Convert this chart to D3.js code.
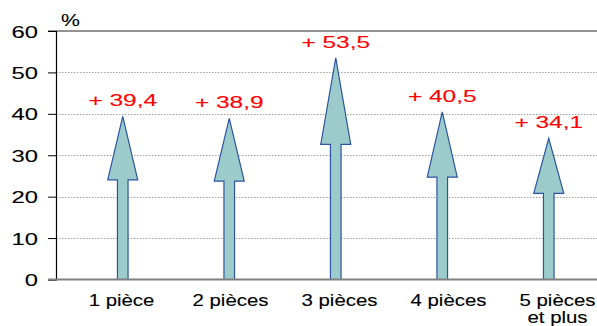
<!DOCTYPE html>
<html>
<head>
<meta charset="utf-8">
<script src="https://cdn.jsdelivr.net/npm/d3@7/dist/d3.min.js"></script>
<style>
  html, body { margin: 0; padding: 0; background: #fff; }
  svg { display: block; }
  text { font-family: "Liberation Sans", Arial, Helvetica, sans-serif; }
</style>
</head>
<body>
<svg id="chart" width="597" height="326"></svg>
<script>
// Rise in percent by number of rooms
const categories = ["1 pièce", "2 pièces", "3 pièces", "4 pièces", "5 pièces\net plus"];
const values = [39.4, 38.9, 53.5, 40.5, 34.1];
const valueLabels = ["+ 39,4", "+ 38,9", "+ 53,5", "+ 40,5", "+ 34,1"];
const yTicks = [0, 10, 20, 30, 40, 50, 60];

const svg = d3.select("#chart");
const W = 597, H = 326;
const axisX = 56;
const textStroke = 0.12;

const y = d3.scaleLinear().domain([0, 60]).range([279.5, 31]);

// category label positions and arrow positions
const xLabel = d3.scaleBand().domain(categories).range([67, 612]);
const xArrow = d3.scaleBand().domain(categories).range([69.5, 602]);
const lc = d => xLabel(d) + xLabel.bandwidth() / 2;
const ac = d => xArrow(d) + xArrow.bandwidth() / 2;

// dotted grid lines
svg.append("g").selectAll("line")
  .data(yTicks.filter(t => t > 0 && t < 60))
  .join("line")
  .attr("x1", axisX).attr("x2", W)
  .attr("y1", d => Math.round(y(d)) + 0.5).attr("y2", d => Math.round(y(d)) + 0.5)
  .attr("stroke", "#a0a0a0").attr("stroke-width", 1)
  .attr("stroke-dasharray", "1.5,1.5");

// top border at 60
svg.append("line")
  .attr("x1", 48).attr("x2", W)
  .attr("y1", y(60)).attr("y2", y(60))
  .attr("stroke", "#6e6e6e").attr("stroke-width", 1.6);

// y axis
const yAxis = d3.axisLeft(y).tickValues(yTicks).tickSize(8).tickFormat(d3.format("d"));
const gy = svg.append("g").attr("transform", `translate(${axisX},0)`).call(yAxis);
gy.select(".domain").attr("stroke", "#000").attr("stroke-width", 1.2);
gy.selectAll(".tick line").attr("stroke", "#000");
gy.selectAll(".tick text").remove();
gy.selectAll(".tick").append("text")
  .attr("transform", "translate(-18,6) scale(1.46,1)")
  .attr("text-anchor", "end")
  .attr("fill", "#000")
  .attr("stroke", "#000").attr("stroke-width", textStroke)
  .style("font-size", "16.3px")
  .style("font-family", '"Liberation Sans", Arial, sans-serif')
  .text(d => d);

// unit
svg.append("text")
  .attr("transform", "translate(61,26) scale(1.25,1)")
  .style("font-size", "17px")
  .attr("fill", "#000")
  .attr("stroke", "#000").attr("stroke-width", textStroke)
  .text("%");

// arrows
const shaftW = 10.6, headW = 30, headFrac = 0.39;
svg.append("g").selectAll("path")
  .data(categories.map((c, i) => ({ c, v: values[i] })))
  .join("path")
  .attr("d", d => {
    const cx = ac(d.c);
    const y0 = y(0), yt = y(d.v);
    const yh = yt + (y0 - yt) * headFrac;
    const p = d3.path();
    p.moveTo(cx - shaftW / 2, y0);
    p.lineTo(cx - shaftW / 2, yh);
    p.lineTo(cx - headW / 2, yh);
    p.lineTo(cx, yt);
    p.lineTo(cx + headW / 2, yh);
    p.lineTo(cx + shaftW / 2, yh);
    p.lineTo(cx + shaftW / 2, y0);
    p.closePath();
    return p.toString();
  })
  .attr("fill", "#9bcccb")
  .attr("stroke", "#2d54a0")
  .attr("stroke-width", 1.2)
  .attr("stroke-linejoin", "miter");

// x axis line
svg.append("line")
  .attr("x1", 48).attr("x2", W)
  .attr("y1", y(0)).attr("y2", y(0))
  .attr("stroke", "#808080").attr("stroke-width", 2);

// value labels
svg.append("g").selectAll("text")
  .data(categories.map((c, i) => ({ c, v: values[i], t: valueLabels[i] })))
  .join("text")
  .attr("transform", d => `translate(${ac(d.c)},${y(d.v + 2.4)}) scale(1.5,1)`)
  .attr("text-anchor", "middle")
  .attr("fill", "#ff0000")
  .attr("stroke", "#ff0000").attr("stroke-width", textStroke)
  .style("font-size", "16.3px")
  .text(d => d.t);

// category labels
const cl = svg.append("g").selectAll("text")
  .data(categories)
  .join("text")
  .attr("transform", d => `translate(${lc(d)},305.5) scale(1.2,1)`)
  .attr("text-anchor", "middle")
  .attr("fill", "#000")
  .attr("stroke", "#000").attr("stroke-width", textStroke)
  .style("font-size", "17px");
cl.each(function (d) {
  const lines = d.split("\n");
  d3.select(this).selectAll("tspan")
    .data(lines)
    .join("tspan")
    .attr("x", 0)
    .attr("dy", (l, i) => i === 0 ? 0 : 18)
    .text(l => l);
});
</script>
</body>
</html>
